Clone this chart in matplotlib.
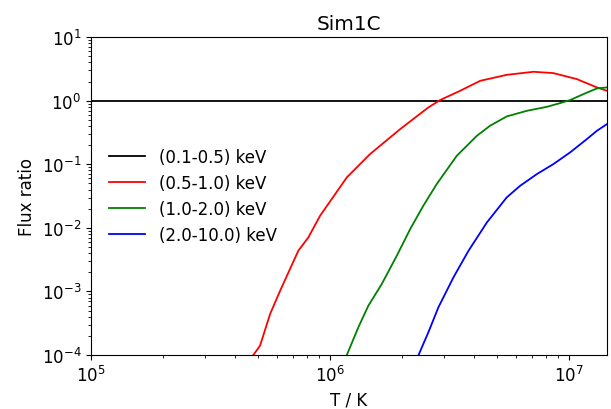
import numpy as np
import matplotlib
matplotlib.use("Agg")
import matplotlib.pyplot as plt

# ── Data (log10 T, log10 flux ratio) ─────────────────────────────────────────
bands = ["(0.1-0.5) keV", "(0.5-1.0) keV", "(1.0-2.0) keV", "(2.0-10.0) keV"]
colors = ["black", "red", "green", "blue"]

logT_ref = [5.0, 7.2]
logF_ref = [0.0, 0.0]

logT_soft = [5.679, 5.707, 5.749, 5.791, 5.867, 5.909, 5.958, 6.07, 6.167, 6.293,
             6.411, 6.46, 6.544, 6.628, 6.739, 6.851, 6.934, 7.032, 7.116, 7.158]
logF_soft = [-4.0, -3.853, -3.355, -2.989, -2.36, -2.15, -1.81, -1.206, -0.84, -0.447,
             -0.106, 0.01, 0.156, 0.313, 0.407, 0.455, 0.434, 0.34, 0.209, 0.156]

logT_mid = [6.07, 6.118, 6.16, 6.216, 6.279, 6.335, 6.39, 6.446, 6.53, 6.614,
            6.669, 6.739, 6.823, 6.907, 6.962, 7.004, 7.06, 7.116, 7.158]
logF_mid = [-4.0, -3.565, -3.225, -2.884, -2.438, -2.019, -1.652, -1.311, -0.866, -0.552,
            -0.394, -0.247, -0.159, -0.096, -0.038, 0.01, 0.104, 0.193, 0.209]

logT_hard = [6.37, 6.411, 6.453, 6.516, 6.579, 6.656, 6.739, 6.795, 6.865, 6.934,
             7.004, 7.074, 7.116, 7.158]
logF_hard = [-4.0, -3.643, -3.25, -2.778, -2.36, -1.914, -1.52, -1.338, -1.154, -0.997,
             -0.813, -0.604, -0.473, -0.368]

series = [(logT_ref, logF_ref), (logT_soft, logF_soft),
          (logT_mid, logF_mid), (logT_hard, logF_hard)]

plt.rcParams["font.size"] = 12

fig = plt.figure(figsize=(6.11, 4.10), dpi=100)
ax = fig.add_axes([0.149, 0.1317, 0.8445, 0.7753])

for (lt, lf), lab, c in zip(series, bands, colors):
    ax.plot(10 ** np.array(lt), 10 ** np.array(lf), color=c, lw=1.3, label=lab)

ax.set_xscale("log")
ax.set_yscale("log")
ax.set_xlim(1e5, 1.44e7)
ax.set_ylim(1e-4, 1e1)
ax.set_xlabel("T / K")
ax.set_ylabel("Flux ratio")
ax.set_title("Sim1C")
ax.legend(loc="center left", bbox_to_anchor=(0.0, 0.5), frameon=False,
          handlelength=2.2, labelspacing=0.48, borderaxespad=0.65)

fig.savefig("out.png", dpi=100)
